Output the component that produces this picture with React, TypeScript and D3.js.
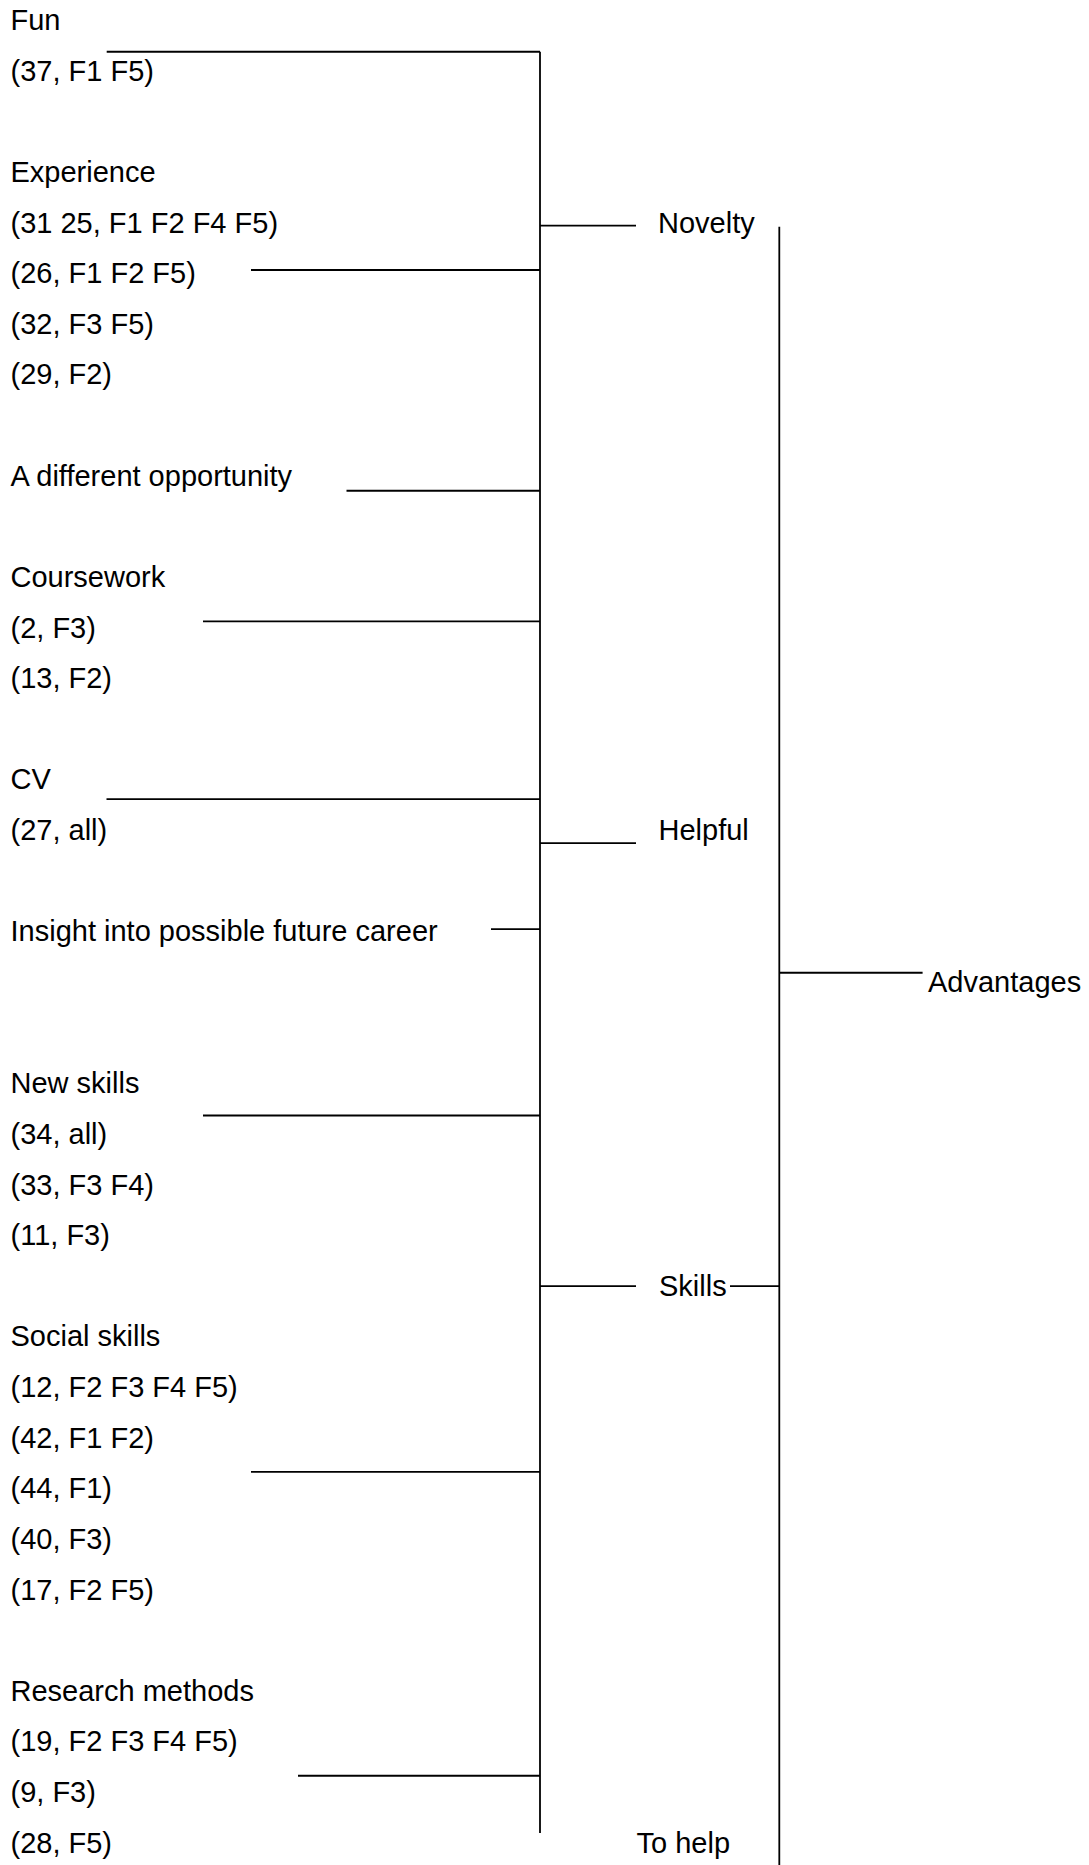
import React from "react";
import * as d3 from "d3";

// ---- data: left column labels (row index on the text grid) ----
const labelRows = [0, 1, 3, 4, 5, 6, 7, 9, 11, 12, 13, 15, 16, 18, 21, 22, 23, 24, 26, 27, 28, 29, 30, 31, 33, 34, 35, 36];
const labelTexts = [
  "Fun", "(37, F1 F5)",
  "Experience", "(31 25, F1 F2 F4 F5)", "(26, F1 F2 F5)", "(32, F3 F5)", "(29, F2)",
  "A different opportunity",
  "Coursework", "(2, F3)", "(13, F2)",
  "CV", "(27, all)",
  "Insight into possible future career",
  "New skills", "(34, all)", "(33, F3 F4)", "(11, F3)",
  "Social skills", "(12, F2 F3 F4 F5)", "(42, F1 F2)", "(44, F1)", "(40, F3)", "(17, F2 F5)",
  "Research methods", "(19, F2 F3 F4 F5)", "(9, F3)", "(28, F5)",
];

// ---- data: codes linked to the first bracket (row where the link sits) ----
const codeNames = ["Fun", "Experience", "A different opportunity", "Coursework", "CV", "Insight into possible future career", "New skills", "Social skills", "Research methods"];
const codeLinkRows = [0.43, 4.74, 9.1, 11.68, 15.19, 17.76, 21.44, 28.48, 34.48];

// ---- data: themes ----
const themeNames = ["Novelty", "Helpful", "Skills", "To help"];
const themeRows = [4, 16, 25, 36];
const themeLinkRows = [3.865, 16.06, 24.81, NaN];

// ---- data: overall ----
const rootName = "Advantages";
const rootRow = 19;
const rootLinkRow = 18.62;

// bracket extents in row units
const bracket1Rows = [0.43, 35.61];
const bracket2Rows = [3.885, 36.3];

// ---- layout (positions, not data) ----
const W = 1089;
const H = 1865;
const codeLinkStartX = [106.7, 251, 346.5, 203, 106.5, 491, 203, 251, 298];
const FONT = "'Liberation Sans', Arial, Helvetica, sans-serif";

export default function App() {
  const y = d3.scaleLinear().domain([0, 36]).range([30, 1852.7]);
  const x = d3.scaleLinear().domain([0, W]).range([0, W]);

  const textX = x(10.5);
  const bracket1X = x(540);
  const themeLineEnd = x(636);
  const themeTextX = [x(658), x(658.5), x(659), x(636.5)];
  const bracket2X = x(779.3);
  const skillsLineStart = x(730);
  const rootLineEnd = x(922.6);
  const rootTextX = x(928);

  const stroke = "#000";
  const sw = 1.8;

  const line = d3.line<[number, number]>();

  return (
    <div style={{ position: "absolute", left: 0, top: 0, width: W, height: H, overflow: "hidden", background: "#fff" }}>
      <svg width={W} height={H} style={{ display: "block" }} fontFamily={FONT} fontSize={29}>
        <rect width={W} height={H} fill="#fff" />
        {labelTexts.map((t, i) => (
          <text key={"l" + i} x={textX} y={y(labelRows[i])} fill="#000">
            {t}
          </text>
        ))}

        {/* code links into first bracket */}
        {codeNames.map((c, i) => (
          <path
            key={"c" + i}
            d={line([[codeLinkStartX[i], y(codeLinkRows[i])], [bracket1X, y(codeLinkRows[i])]]) || ""}
            stroke={stroke}
            strokeWidth={sw}
            fill="none"
          />
        ))}

        {/* first bracket */}
        <path d={line([[bracket1X, y(bracket1Rows[0])], [bracket1X, y(bracket1Rows[1])]]) || ""} stroke={stroke} strokeWidth={sw} fill="none" />

        {/* theme links and labels */}
        {themeNames.map((t, i) => (
          <g key={"t" + i}>
            {!isNaN(themeLinkRows[i]) && (
              <path
                d={line([[bracket1X, y(themeLinkRows[i])], [themeLineEnd, y(themeLinkRows[i])]]) || ""}
                stroke={stroke}
                strokeWidth={sw}
                fill="none"
              />
            )}
            <text x={themeTextX[i]} y={y(themeRows[i])} fill="#000">
              {t}
            </text>
          </g>
        ))}

        {/* Skills link to second bracket */}
        <path d={line([[skillsLineStart, y(themeLinkRows[2])], [bracket2X, y(themeLinkRows[2])]]) || ""} stroke={stroke} strokeWidth={sw} fill="none" />

        {/* second bracket */}
        <path d={line([[bracket2X, y(bracket2Rows[0])], [bracket2X, y(bracket2Rows[1])]]) || ""} stroke={stroke} strokeWidth={sw} fill="none" />

        {/* root */}
        <path d={line([[bracket2X, y(rootLinkRow)], [rootLineEnd, y(rootLinkRow)]]) || ""} stroke={stroke} strokeWidth={sw} fill="none" />
        <text x={rootTextX} y={y(rootRow)} fill="#000">
          {rootName}
        </text>
      </svg>
    </div>
  );
}
